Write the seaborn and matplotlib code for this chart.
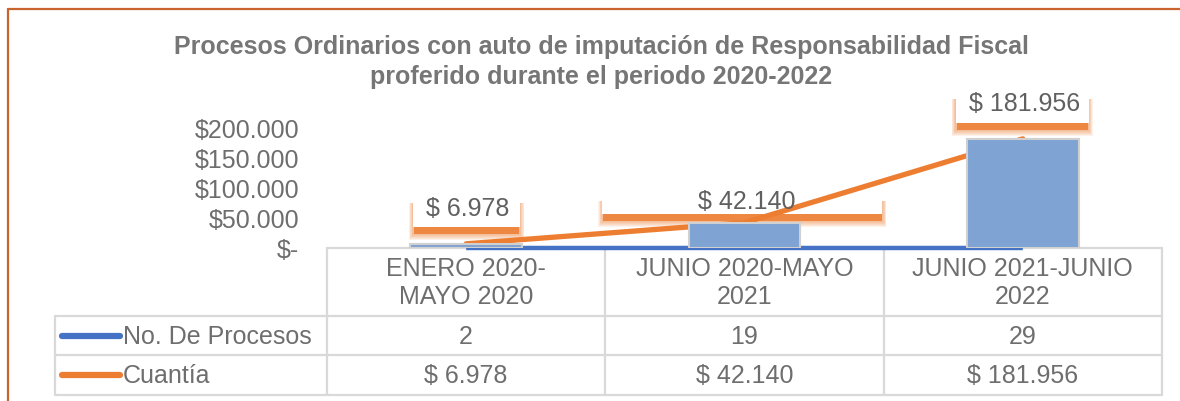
import numpy as np
import pandas as pd
import matplotlib
matplotlib.use("Agg")
import matplotlib.pyplot as plt
import seaborn as sns
from matplotlib.patches import Rectangle
from matplotlib.lines import Line2D

# ---------------- data ----------------
categories = ["ENERO 2020-\nMAYO 2020", "JUNIO 2020-MAYO\n2021", "JUNIO 2021-JUNIO\n2022"]
series_names = ["No. De Procesos", "Cuantía"]
procesos = [2, 19, 29]
cuantia = [6978, 42140, 181956]
ytick_values = [0, 50000, 100000, 150000, 200000]
ytick_labels = ["$-", "$50.000", "$100.000", "$150.000", "$200.000"]
title = ("Procesos Ordinarios con auto de imputación de Responsabilidad Fiscal\n"
         "proferido durante el periodo 2020-2022")

def money(v):
    return "$ " + f"{v:,}".replace(",", ".")

cuantia_labels = [money(v) for v in cuantia]

# ---------------- style ----------------
sns.set_theme(style="white")
plt.rcParams['font.family'] = ['Liberation Sans', 'DejaVu Sans']

TXT = "#6E6E6E"
TITLE_C = "#767676"
ORANGE = "#ED7D31"
BLUE = "#4472C4"
BAR_C = "#7FA3D3"
GRID_C = "#D9D9D9"
BORDER_C = "#C9642E"

W, H = 1180, 401
fig = plt.figure(figsize=(W / 100, H / 100), dpi=100)
fig.patch.set_facecolor("white")

def fx(px):
    return px / W

def fy(py):
    return 1 - py / H

# background axes in image pixel coordinates (table, frame)
tax = fig.add_axes([0, 0, 1, 1], zorder=0)
tax.set_xlim(0, W)
tax.set_ylim(H, 0)
tax.axis("off")

# main plot axes
ax = fig.add_axes([fx(327), fy(248), fx(1162) - fx(327), fy(128) - fy(248)], zorder=1)
ax.patch.set_alpha(0)

df = pd.DataFrame({"cat": categories, "cuantia": cuantia, "procesos": procesos})
pos = np.arange(len(categories))

sns.barplot(data=df, x="cat", y="cuantia", color=BAR_C, saturation=1, width=0.4,
            edgecolor="#D0D0D0", linewidth=1.5, ax=ax, zorder=4)
sns.lineplot(x=pos, y=procesos, color=BLUE, lw=3.2, ax=ax, zorder=2.5,
             clip_on=False, solid_capstyle="butt")
sns.lineplot(x=pos, y=cuantia, color=ORANGE, lw=3.8, ax=ax, zorder=3,
             clip_on=False, solid_capstyle="round")

ax.set_xlim(-0.5, len(categories) - 0.5)
ax.set_ylim(0, 200000)
for s in ax.spines.values():
    s.set_visible(False)
ax.set_xticks([])
ax.set_xlabel("")
ax.set_ylabel("")
ax.set_yticks(ytick_values)
ax.set_yticklabels(ytick_labels, fontsize=18, color=TXT)
ax.tick_params(axis="y", length=0, pad=20)
ax.grid(False)

fig.canvas.draw()

def data_to_img(x, y):
    d = ax.transData.transform((x, y))
    return d[0], H - d[1]

def img_to_data(px, py):
    return ax.transData.inverted().transform((px, H - py))

# ---------------- data labels (boxes with orange glow) ----------------
# box geometry relative to the anchor point, in pixels: (left, right, top, bottom, text_dy)
label_boxes = [(-53, 54, -54, -17, -35),
               (-142, 138, -35, -9, -21),
               (-67, 66, -53, -16, -35)]

def rect_img(x0, y0, x1, y1, **kw):
    a = img_to_data(x0, y1)
    b = img_to_data(x1, y0)
    r = Rectangle((a[0], a[1]), b[0] - a[0], b[1] - a[1], clip_on=False, **kw)
    ax.add_patch(r)
    return r

for i, (v, lab) in enumerate(zip(cuantia, cuantia_labels)):
    ax_px, ay_px = data_to_img(i, v)
    l, r, t, b, tdy = label_boxes[i]
    x0, x1, y0, y1 = ax_px + l, ax_px + r, ay_px + t, ay_px + b
    # blurred shadow, shifted down
    sh = 7
    n = 6
    for j in range(n):
        ex = 4 * (1 - j / n)
        ey = 6 * (1 - j / n)
        rect_img(x0 - ex, y0 + sh + 6, x1 + ex, y1 + sh + ey,
                 facecolor=ORANGE, edgecolor="none", alpha=0.1, zorder=1.5)
    rect_img(x0 + 1, y1 - 2, x1 - 1, y1 + sh, facecolor=ORANGE,
             edgecolor="none", alpha=0.85, zorder=1.6)
    rect_img(x0, y0, x1, y1, facecolor="white", edgecolor="none", zorder=1.8)
    tx, ty = img_to_data(ax_px + 2, ay_px + tdy)
    ax.text(tx, ty, lab, ha="center", va="center", fontsize=18, color="#606060",
            zorder=5, clip_on=False)

# ---------------- title ----------------
fig.text(fx(601), fy(62), title, ha="center", va="center", fontsize=18,
         fontweight="bold", color=TITLE_C, linespacing=1.28)

# ---------------- data table ----------------
edges = [data_to_img(e, 0)[0] for e in np.arange(len(categories) + 1) - 0.5]
base_y = data_to_img(0, 0)[1]
tbl_left = 55
hdr_bottom = 316
row_bottoms = [355, 395]
lw_grid = 1.6

tax.plot([edges[0], edges[-1]], [base_y, base_y], color=GRID_C, lw=lw_grid)
for e in edges:
    tax.plot([e, e], [base_y, row_bottoms[-1]], color=GRID_C, lw=lw_grid)
tax.plot([tbl_left, tbl_left], [hdr_bottom, row_bottoms[-1]], color=GRID_C, lw=lw_grid)
for yy in [hdr_bottom] + row_bottoms:
    tax.plot([tbl_left, edges[-1]], [yy, yy], color=GRID_C, lw=lw_grid)

for k, c in enumerate(categories):
    cx = (edges[k] + edges[k + 1]) / 2
    tax.text(cx, (base_y + hdr_bottom) / 2 + 1, c, ha="center", va="center",
             fontsize=18, color=TXT, linespacing=1.17)

row_tops = [hdr_bottom] + row_bottoms[:-1]
row_values = [[str(p) for p in procesos], cuantia_labels]
row_colors = [BLUE, ORANGE]
for ri, (name, vals, col) in enumerate(zip(series_names, row_values, row_colors)):
    cy = (row_tops[ri] + row_bottoms[ri]) / 2
    tax.add_line(Line2D([62, 120], [cy, cy], color=col, lw=4.5, solid_capstyle="round"))
    tax.text(123, cy + 1, name, ha="left", va="center", fontsize=18, color=TXT)
    for k, val in enumerate(vals):
        cx = (edges[k] + edges[k + 1]) / 2
        tax.text(cx, cy + 1, val, ha="center", va="center", fontsize=18, color=TXT)

# ---------------- outer frame ----------------
tax.plot([8, 8], [9, H + 5], color=BORDER_C, lw=1.6, clip_on=False)
tax.plot([8, W + 5], [9, 9], color=BORDER_C, lw=1.6, clip_on=False)

fig.savefig("out.png", dpi=100, facecolor="white")
